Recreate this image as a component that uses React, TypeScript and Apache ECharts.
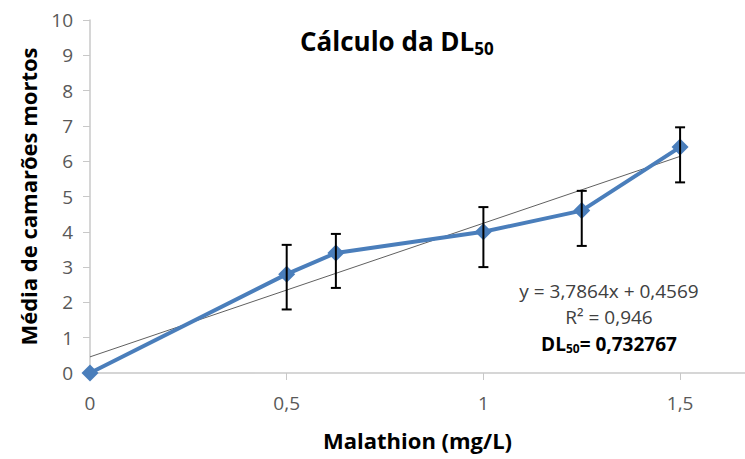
import React, { useEffect, useRef } from "react";
import * as echarts from "echarts";

const doses = [0, 0.5, 0.625, 1, 1.25, 1.5];
const meanDeaths = [0, 2.8, 3.4, 4.0, 4.6, 6.4];
const errUpper = [null, 3.63, 3.94, 4.7, 5.16, 6.96];
const errLower = [null, 1.8, 2.41, 3.0, 3.6, 5.4];
const slope = 3.7864;
const intercept = 0.4569;
const trendX = [0, 1.5];
const xTicks = [0, 0.5, 1, 1.5];

const FONT = "'Open Sans', 'Liberation Sans', sans-serif";

export default function App() {
  const ref = useRef<HTMLDivElement>(null);
  useEffect(() => {
    if (!ref.current) return;
    const chart = echarts.init(ref.current, null, { renderer: "svg" });
    const errData = doses
      .map((d, i) => [d, errLower[i], errUpper[i]])
      .filter((r) => r[1] != null);
    chart.setOption({
      animation: false,
      backgroundColor: "#ffffff",
      grid: { left: 90, right: 0, top: 20, bottom: 86 },
      xAxis: {
        type: "value",
        min: 0,
        max: 1.665,
        interval: 0.5,
        name: "Malathion (mg/L)",
        nameLocation: "middle",
        nameGap: 56,
        nameTextStyle: { fontFamily: FONT, fontSize: 22, fontWeight: "bold", color: "#000" },
        axisLine: { lineStyle: { color: "#c8c8c8", width: 1.5 } },
        axisTick: { show: true, length: 7, lineStyle: { color: "#c8c8c8" } },
        splitLine: { show: false },
        axisLabel: {
          fontFamily: FONT,
          fontSize: 19,
          color: "#595959",
          margin: 20,
          showMaxLabel: false,
          formatter: (v: number) => (xTicks.includes(v) ? String(v).replace(".", ",") : ""),
        },
      },
      yAxis: {
        type: "value",
        min: 0,
        max: 10,
        interval: 1,
        name: "Média de camarões mortos",
        nameLocation: "middle",
        nameGap: 51,
        nameTextStyle: { fontFamily: FONT, fontSize: 22, fontWeight: "bold", color: "#000" },
        axisLine: { show: true, lineStyle: { color: "#c8c8c8", width: 1.5 } },
        axisTick: { show: true, length: 7, lineStyle: { color: "#c8c8c8" } },
        splitLine: { show: false },
        axisLabel: { fontFamily: FONT, fontSize: 19, color: "#595959", margin: 17 },
      },
      series: [
        {
          type: "line",
          data: trendX.map((x) => [x, slope * x + intercept]),
          symbol: "none",
          lineStyle: { color: "#606060", width: 1 },
          z: 3,
        },
        {
          type: "line",
          data: doses.map((d, i) => [d, meanDeaths[i]]),
          symbol: "diamond",
          symbolSize: 17,
          itemStyle: { color: "#4a7ebb" },
          lineStyle: { color: "#4a7ebb", width: 4 },
          z: 4,
        },
        {
          type: "custom",
          data: errData,
          z: 5,
          renderItem: (params: any, api: any) => {
            const x = api.value(0);
            const lo = api.coord([x, api.value(1)]);
            const hi = api.coord([x, api.value(2)]);
            const cap = 5;
            const style = { stroke: "#000", lineWidth: 2 };
            return {
              type: "group",
              children: [
                { type: "line", shape: { x1: lo[0], y1: lo[1], x2: hi[0], y2: hi[1] }, style },
                { type: "line", shape: { x1: lo[0] - cap, y1: lo[1], x2: lo[0] + cap, y2: lo[1] }, style },
                { type: "line", shape: { x1: hi[0] - cap, y1: hi[1], x2: hi[0] + cap, y2: hi[1] }, style },
              ],
            };
          },
        },
      ],
      graphic: [
        {
          type: "text",
          left: 300,
          top: 28,
          style: {
            text: "{t|Cálculo da DL}{s|50}",
            rich: {
              t: { fontFamily: FONT, fontSize: 26, fontWeight: "bold", fill: "#000" },
              s: { fontFamily: FONT, fontSize: 17, fontWeight: "bold", fill: "#000", verticalAlign: "bottom", padding: [14, 0, 0, 0] },
            },
          },
        },
        {
          type: "text",
          x: 609,
          y: 291,
          style: {
            text: "y = 3,7864x + 0,4569",
            fontFamily: FONT,
            fontSize: 19,
            fill: "#404040",
            align: "center",
            verticalAlign: "middle",
          },
        },
        {
          type: "text",
          x: 609,
          y: 317,
          style: {
            text: "R² = 0,946",
            fontFamily: FONT,
            fontSize: 19,
            fill: "#404040",
            align: "center",
            verticalAlign: "middle",
          },
        },
        {
          type: "text",
          x: 609,
          y: 344,
          style: {
            text: "{b|DL}{s|50}{b|= 0,732767}",
            align: "center",
            verticalAlign: "middle",
            rich: {
              b: { fontFamily: FONT, fontSize: 19, fontWeight: "bold", fill: "#000" },
              s: { fontFamily: FONT, fontSize: 12, fontWeight: "bold", fill: "#000", padding: [9, 0, 0, 0] },
            },
          },
        },
      ],
    });
    return () => chart.dispose();
  }, []);
  return <div ref={ref} style={{ width: 745, height: 459, position: "absolute", left: 0, top: 0 }} />;
}
